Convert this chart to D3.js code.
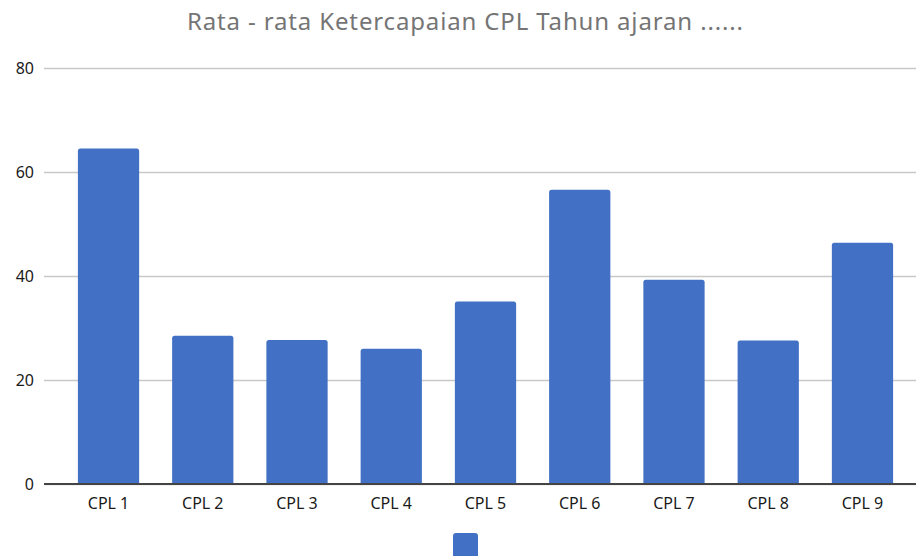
<!DOCTYPE html>
<html>
<head>
<meta charset="utf-8">
<script src="https://cdn.jsdelivr.net/npm/d3@7"></script>
<style>
  body { margin: 0; background: #fff; }
  svg { display: block; }
</style>
</head>
<body>
<svg id="chart" width="916" height="556"></svg>
<script>
const chartTitle = 'Rata - rata Ketercapaian CPL Tahun ajaran ......';
const categories = ['CPL 1', 'CPL 2', 'CPL 3', 'CPL 4', 'CPL 5', 'CPL 6', 'CPL 7', 'CPL 8', 'CPL 9'];
const values = [64.5, 28.5, 27.7, 26.0, 35.1, 56.6, 39.3, 27.6, 46.4];
const yTicks = [0, 20, 40, 60, 80];

const width = 916;
const height = 556;
const plot = { left: 44, right: 916, top: 68, bottom: 484 };
const font = '"Noto Sans", "Open Sans", sans-serif';

const svg = d3.select('#chart');

const x = d3.scaleBand()
  .domain(categories)
  .range([61.4, 909.6])
  .paddingInner(0.35)
  .paddingOuter(0.175);

const y = d3.scaleLinear()
  .domain([0, 80])
  .range([plot.bottom, plot.top]);

// title
svg.append('text')
  .attr('x', 465)
  .attr('y', 30)
  .attr('text-anchor', 'middle')
  .attr('font-family', font)
  .attr('font-size', 24)
  .attr('textLength', 556)
  .attr('lengthAdjust', 'spacing')
  .attr('fill', '#757575')
  .text(chartTitle);

// gridlines and y labels
const yAxis = d3.axisLeft(y)
  .tickValues(yTicks)
  .tickSize(-(plot.right - plot.left))
  .tickPadding(10);

const gy = svg.append('g')
  .attr('transform', `translate(${plot.left},0)`)
  .call(yAxis);
gy.select('.domain').remove();
gy.selectAll('.tick line')
  .attr('stroke', '#c8c8c8')
  .attr('stroke-width', 1.5);
gy.selectAll('.tick text')
  .attr('font-family', font)
  .attr('font-size', 16)
  .attr('fill', '#1a1a1a');

// bars
svg.append('g')
  .selectAll('path')
  .data(values)
  .join('path')
  .attr('fill', '#4170c4')
  .attr('d', (d, i) => {
    const x0 = x(categories[i]);
    const w = x.bandwidth();
    const y0 = y(d);
    const r = 2.5;
    const p = d3.path();
    p.moveTo(x0, plot.bottom);
    p.lineTo(x0, y0 + r);
    p.quadraticCurveTo(x0, y0, x0 + r, y0);
    p.lineTo(x0 + w - r, y0);
    p.quadraticCurveTo(x0 + w, y0, x0 + w, y0 + r);
    p.lineTo(x0 + w, plot.bottom);
    p.closePath();
    return p.toString();
  });

// baseline and category labels
const xAxis = d3.axisBottom(x).tickSize(0).tickPadding(14);
const gx = svg.append('g')
  .attr('transform', `translate(0,${plot.bottom})`)
  .call(xAxis);
gx.select('.domain').remove();
gx.selectAll('.tick text')
  .attr('font-family', font)
  .attr('font-size', 16)
  .attr('fill', '#1a1a1a');

svg.append('line')
  .attr('x1', plot.left)
  .attr('x2', plot.right)
  .attr('y1', plot.bottom)
  .attr('y2', plot.bottom)
  .attr('stroke', '#444')
  .attr('stroke-width', 2);

// legend swatch (series has no name)
svg.append('rect')
  .attr('x', 453)
  .attr('y', 533)
  .attr('width', 25)
  .attr('height', 25)
  .attr('rx', 3)
  .attr('fill', '#4170c4');
</script>
</body>
</html>
